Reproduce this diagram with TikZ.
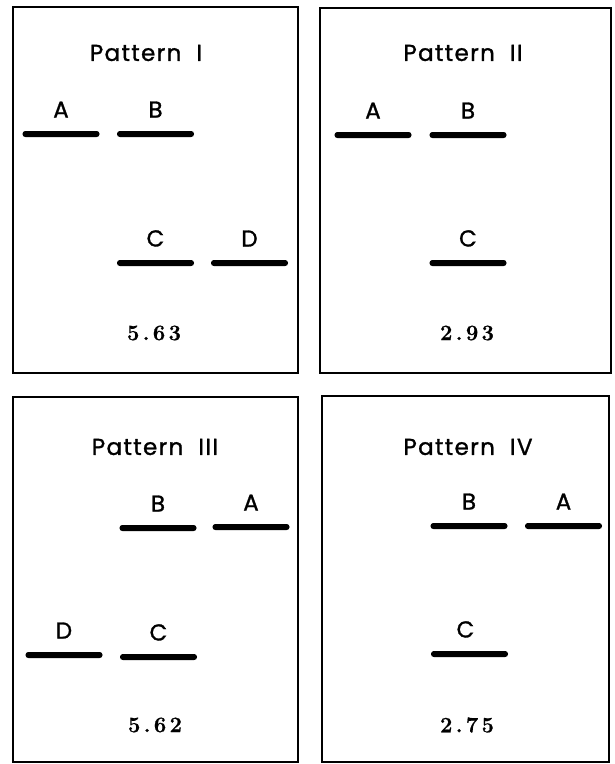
\documentclass[tikz,border=0pt]{standalone}
\usepackage{fontspec}
\usepackage{tikz}
\usetikzlibrary{positioning}
\newfontfamily\geofont[FakeBold=1.2, LetterSpace=6]{Poppins}
\newfontfamily\valfont[LetterSpace=15, FakeBold=0.8]{Latin Modern Roman}

\begin{document}
\begin{tikzpicture}[x=1pt, y=-1pt,
  panel/.style={draw, line width=2.4pt},
  bar/.style={fill=black, rounded corners=2.8pt, inner sep=0pt,
              minimum width=77pt, minimum height=6pt},
  lbl/.style={inner sep=0pt, font=\geofont\fontsize{23}{23}\selectfont},
  ttl/.style={inner sep=0pt, font=\geofont\fontsize{23}{23}\selectfont},
  val/.style={inner sep=0pt, font=\valfont\bfseries\fontsize{22}{22}\selectfont},
  node distance=13pt]
\useasboundingbox (0,0) rectangle (614,764);

% Pattern I
\draw[panel] (13,7) rectangle (298,373);
\node[ttl] (t1) at (146,53) {Pattern\ \ I};
\node[bar] (a1) at (61,134) {};
\node[bar] (b1) at (155.5,134) {};
\node[bar] (c1) at (155.5,263) {};
\node[bar] (d1) at (249.5,263) {};
\node[lbl, above=of a1] (la1) {A};
\node[lbl, above=of b1] (lb1) {B};
\node[lbl, above=of c1] (lc1) {C};
\node[lbl, above=of d1] (ld1) {D};
\node[val] (v1) at (154,333) {5.63};

% Pattern II
\draw[panel] (320,8) rectangle (611,373);
\node[ttl] (t2) at (463,53) {Pattern\ \ II};
\node[bar] (a2) at (373,135) {};
\node[bar] (b2) at (468,135) {};
\node[bar] (c2) at (468,263) {};
\node[lbl, above=of a2] (la2) {A};
\node[lbl, above=of b2] (lb2) {B};
\node[lbl, above=of c2] (lc2) {C};
\node[val] (v2) at (467,333) {2.93};

% Pattern III
\draw[panel] (13,397) rectangle (298,762);
\node[ttl] (t3) at (155,447) {Pattern\ \ III};
\node[bar] (b3) at (158,528) {};
\node[bar] (a3) at (251,527) {};
\node[bar] (d3) at (64,655) {};
\node[bar] (c3) at (158.5,657) {};
\node[lbl, above=of b3] (lb3) {B};
\node[lbl, above=of a3] (la3) {A};
\node[lbl, above=of d3] (ld3) {D};
\node[lbl, above=of c3] (lc3) {C};
\node[val] (v3) at (155,725) {5.62};

% Pattern IV
\draw[panel] (322,396) rectangle (609,762);
\node[ttl] (t4) at (468,447) {Pattern\ \ IV};
\node[bar] (b4) at (469,526) {};
\node[bar] (a4) at (563.5,526) {};
\node[bar] (c4) at (469.5,654) {};
\node[lbl, above=of b4] (lb4) {B};
\node[lbl, above=of a4] (la4) {A};
\node[lbl, above=of c4, xshift=-4pt] (lc4) {C};
\node[val] (v4) at (467,725) {2.75};
\end{tikzpicture}
\end{document}
